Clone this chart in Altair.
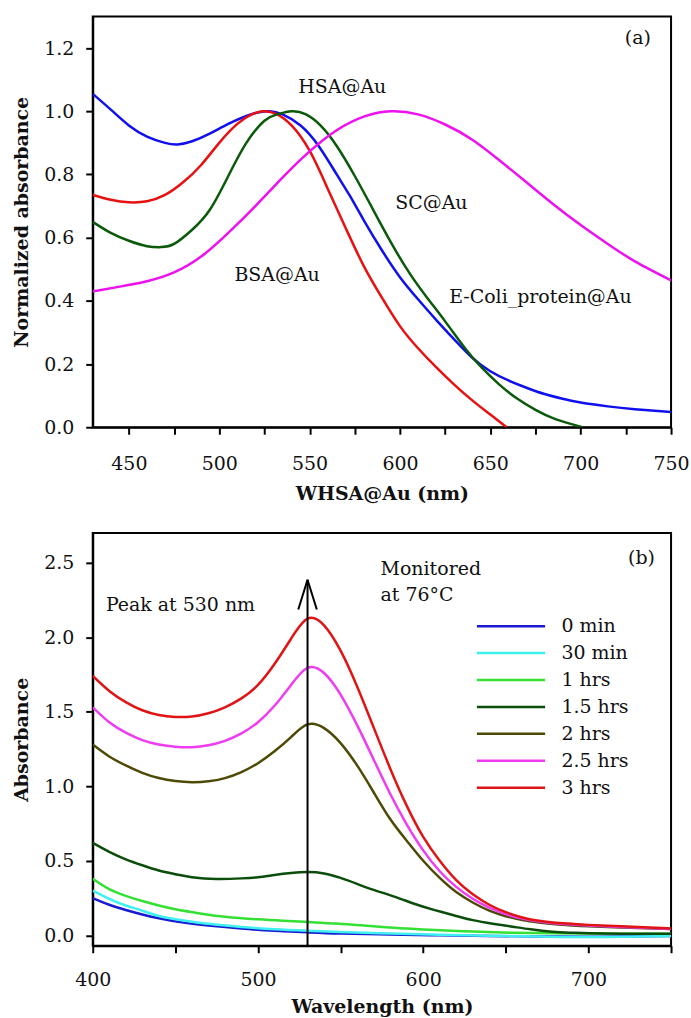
import altair as alt
import pandas as pd

FONT = "DejaVu Serif"

# ---------------- Panel (a) data ----------------
a_names = ["blue curve", "red curve", "green curve", "magenta curve"]
a_colors = ["#1010ee", "#e81010", "#0a5a0a", "#ee10ee"]

a_blue_x = [430, 440, 450, 460, 470, 477, 485, 495, 505, 515, 522, 528, 535, 545, 555, 565, 572, 580, 590, 600,
            610, 620, 630, 640, 650, 660, 670, 680, 690, 700, 715, 730, 750]
a_blue_y = [1.055, 1.005, 0.955, 0.92, 0.90, 0.895, 0.905, 0.93, 0.96, 0.985, 0.997, 1.0, 0.99, 0.955, 0.89, 0.80,
            0.735, 0.655, 0.56, 0.475, 0.405, 0.34, 0.278, 0.22, 0.177, 0.148, 0.125, 0.105, 0.09, 0.078, 0.066,
            0.057, 0.048]

a_red_x = [430, 440, 450, 460, 470, 480, 490, 500, 510, 518, 525, 532, 540, 550, 560, 570, 580, 590, 600, 610,
           620, 630, 640, 650, 659]
a_red_y = [0.735, 0.72, 0.712, 0.715, 0.735, 0.775, 0.83, 0.90, 0.96, 0.99, 1.0, 0.99, 0.955, 0.875, 0.755, 0.63,
           0.51, 0.41, 0.32, 0.25, 0.19, 0.135, 0.085, 0.04, 0.0]

a_green_x = [430, 440, 450, 460, 468, 475, 485, 495, 505, 515, 525, 532, 540, 548, 556, 565, 575, 585, 595, 605,
             615, 625, 636, 645, 655, 665, 675, 685, 695, 701]
a_green_y = [0.65, 0.615, 0.59, 0.573, 0.57, 0.58, 0.625, 0.69, 0.795, 0.90, 0.97, 0.99, 1.0, 0.99, 0.955, 0.89,
             0.795, 0.69, 0.585, 0.49, 0.41, 0.335, 0.25, 0.19, 0.135, 0.09, 0.055, 0.028, 0.01, 0.0]

a_mag_x = [430, 445, 460, 475, 490, 505, 520, 535, 550, 565, 580, 595, 610, 625, 640, 655, 670, 685, 700, 715,
           730, 750]
a_mag_y = [0.43, 0.445, 0.462, 0.49, 0.54, 0.615, 0.70, 0.79, 0.873, 0.94, 0.983, 1.0, 0.99, 0.958, 0.91, 0.845,
           0.775, 0.705, 0.64, 0.58, 0.525, 0.465]

a_labels = ["(a)", "HSA@Au", "SC@Au", "BSA@Au", "E-Coli_protein@Au"]
a_label_x = [731.6, 568.1, 617.4, 532.0, 677.7]
a_label_y = [1.231, 1.078, 0.708, 0.482, 0.413]

# ---------------- Panel (b) data ----------------
b_names = ["0 min", "30 min", "1 hrs", "1.5 hrs", "2 hrs", "2.5 hrs", "3 hrs"]
b_colors = ["#1a1ad0", "#3ff0f0", "#33e033", "#0b4d0b", "#4d4a05", "#f03cf0", "#e01414"]

b_0_x = [400, 410, 420, 430, 440, 455, 470, 490, 510, 530, 550, 580, 610, 640, 670, 700, 730, 750]
b_0_y = [0.25, 0.205, 0.17, 0.14, 0.115, 0.085, 0.065, 0.045, 0.03, 0.02, 0.012, 0.005, 0.0, -0.004, -0.008,
         -0.01, -0.007, -0.005]

b_30_x = [400, 410, 420, 430, 440, 455, 470, 490, 510, 530, 550, 580, 610, 640, 670, 700, 730, 750]
b_30_y = [0.30, 0.245, 0.20, 0.165, 0.13, 0.10, 0.077, 0.056, 0.04, 0.03, 0.022, 0.012, 0.004, -0.003, -0.008,
          -0.012, -0.008, -0.004]

b_1h_x = [400, 410, 420, 430, 440, 450, 465, 480, 500, 515, 530, 545, 560, 580, 607, 630, 654, 680, 710, 750]
b_1h_y = [0.38, 0.31, 0.265, 0.23, 0.20, 0.175, 0.147, 0.125, 0.107, 0.098, 0.09, 0.08, 0.069, 0.052, 0.035,
          0.025, 0.017, 0.013, 0.011, 0.01]

b_15h_x = [400, 410, 420, 430, 440, 450, 460, 475, 490, 500, 510, 520, 530, 540, 550, 560, 570, 583, 595, 607,
           620, 630, 642, 654, 665, 678, 690, 701, 720, 750]
b_15h_y = [0.62, 0.56, 0.51, 0.47, 0.435, 0.41, 0.39, 0.378, 0.382, 0.39, 0.405, 0.418, 0.424, 0.415, 0.385,
           0.345, 0.305, 0.258, 0.21, 0.169, 0.13, 0.102, 0.078, 0.058, 0.04, 0.024, 0.017, 0.013, 0.011, 0.01]

b_wl = [400, 410, 420, 430, 440, 450, 460, 470, 480, 490, 500, 510, 520, 530, 540, 550, 560, 570, 580, 590, 600,
        610, 620, 630, 640, 650, 660, 670, 680, 690, 700, 720, 740, 750]
b_2h_y = [1.28, 1.20, 1.14, 1.09, 1.055, 1.035, 1.027, 1.033, 1.055, 1.095, 1.155, 1.235, 1.33, 1.415, 1.39,
          1.29, 1.14, 0.96, 0.78, 0.635, 0.50, 0.385, 0.29, 0.22, 0.165, 0.128, 0.102, 0.086, 0.074, 0.066, 0.06,
          0.052, 0.045, 0.042]
b_25h_y = [1.53, 1.43, 1.36, 1.31, 1.28, 1.265, 1.262, 1.275, 1.305, 1.355, 1.43, 1.54, 1.68, 1.795, 1.76,
           1.615, 1.41, 1.18, 0.95, 0.745, 0.57, 0.43, 0.325, 0.245, 0.185, 0.142, 0.112, 0.092, 0.08, 0.072,
           0.066, 0.056, 0.047, 0.043]
b_3h_y = [1.74, 1.64, 1.565, 1.51, 1.478, 1.465, 1.468, 1.49, 1.53, 1.59, 1.68, 1.82, 1.99, 2.125, 2.08, 1.91,
          1.67, 1.395, 1.12, 0.87, 0.66, 0.50, 0.37, 0.275, 0.205, 0.155, 0.12, 0.097, 0.085, 0.077, 0.07, 0.06,
          0.05, 0.046]

b_text = ["(b)", "Peak at 530 nm", "Monitored", "at 76°C"]
b_text_x = [732.1, 408.0, 574.2, 574.2]
b_text_y = [2.529, 2.219, 2.455, 2.281]
b_text_align = ["center", "left", "left", "left"]

arrow_x = 530
arrow_base = -0.07
arrow_tip = 2.386
arrow_arm_dx = 5.6
arrow_arm_dy = 0.2


def long_table(key, names, xs_list, ys_list):
    rows = []
    for name, xs, ys in zip(names, xs_list, ys_list):
        for i, (x, y) in enumerate(zip(xs, ys)):
            rows.append({key: name, "wl": x, "val": y, "order": i})
    return pd.DataFrame(rows)


df_a = long_table("curve", a_names, [a_blue_x, a_red_x, a_green_x, a_mag_x],
                  [a_blue_y, a_red_y, a_green_y, a_mag_y])
df_b = long_table("time", b_names, [b_0_x, b_30_x, b_1h_x, b_15h_x, b_wl, b_wl, b_wl],
                  [b_0_y, b_30_y, b_1h_y, b_15h_y, b_2h_y, b_25h_y, b_3h_y])

ann_a = pd.DataFrame({"label": a_labels, "wl": a_label_x, "val": a_label_y})
ann_b = pd.DataFrame({"label": b_text, "wl": b_text_x, "val": b_text_y, "align": b_text_align})

INTERP = "natural"

# ---------------- Panel (a) chart ----------------
xa = alt.X("wl:Q", scale=alt.Scale(domain=[430, 750], nice=False, zero=False),
           axis=alt.Axis(title="WHSA@Au (nm)", values=list(range(450, 751, 25)), format="d",
                         labelExpr="datum.value % 50 == 0 ? datum.label : ''",
                         labelPadding=20, titlePadding=11))
ya = alt.Y("val:Q", scale=alt.Scale(domain=[0, 1.3], nice=False, zero=False),
           axis=alt.Axis(title="Normalized absorbance", values=[0, 0.2, 0.4, 0.6, 0.8, 1.0, 1.2], format=".1f"))

lines_a = alt.Chart(df_a).mark_line(strokeWidth=2.5, interpolate=INTERP, clip=True).encode(
    x=xa, y=ya,
    color=alt.Color("curve:N", scale=alt.Scale(domain=a_names, range=a_colors), legend=None),
    order="order:Q",
)
text_a = alt.Chart(ann_a).mark_text(font=FONT, fontSize=19, color="#111111").encode(
    x=xa, y=ya, text="label:N"
)
panel_a = alt.layer(lines_a, text_a).properties(width=580, height=412)

# ---------------- Panel (b) chart ----------------
xb = alt.X("wl:Q", scale=alt.Scale(domain=[400, 750], nice=False, zero=False),
           axis=alt.Axis(title="Wavelength (nm)", values=list(range(400, 751, 50)), format="d",
                         labelExpr="datum.value % 100 == 0 ? datum.label : ''",
                         labelPadding=18, titlePadding=8))
yb = alt.Y("val:Q", scale=alt.Scale(domain=[-0.07, 2.7], nice=False, zero=False),
           axis=alt.Axis(title="Absorbance", values=[0, 0.5, 1.0, 1.5, 2.0, 2.5], format=".1f"))

lines_b = alt.Chart(df_b).mark_line(strokeWidth=2.5, interpolate=INTERP, clip=True).encode(
    x=xb, y=yb,
    color=alt.Color("time:N", scale=alt.Scale(domain=b_names, range=b_colors),
                    legend=alt.Legend(title=None, orient="none", legendX=410, legendY=84, padding=0,
                                      symbolType="M-5,0H5", symbolSize=187, symbolStrokeWidth=2.5,
                                      labelFont=FONT, labelFontSize=19, labelColor="#111111",
                                      labelOffset=41, rowPadding=7)),
    order="order:Q",
)

shaft = pd.DataFrame({"wl": [arrow_x], "val": [arrow_base], "val2": [arrow_tip]})
arms = pd.DataFrame({"wl": [arrow_x, arrow_x], "wl2": [arrow_x - arrow_arm_dx, arrow_x + arrow_arm_dx],
                     "val": [arrow_tip, arrow_tip], "val2": [arrow_tip - arrow_arm_dy, arrow_tip - arrow_arm_dy]})

shaft_mark = alt.Chart(shaft).mark_rule(strokeWidth=2, color="black").encode(x=xb, y=yb, y2="val2:Q")
arms_mark = alt.Chart(arms).mark_rule(strokeWidth=2, color="black").encode(x=xb, x2="wl2:Q", y=yb, y2="val2:Q")

text_b = alt.Chart(ann_b).mark_text(font=FONT, fontSize=19, color="#111111").encode(
    x=xb, y=yb, text="label:N",
)
text_b_center = text_b.transform_filter("datum.align == 'center'").mark_text(
    font=FONT, fontSize=19, color="#111111", align="center")
text_b_left = text_b.transform_filter("datum.align == 'left'").mark_text(
    font=FONT, fontSize=19, color="#111111", align="left")

panel_b = alt.layer(lines_b, shaft_mark, arms_mark, text_b_center, text_b_left).properties(width=580, height=414)

chart = alt.vconcat(panel_a, panel_b, spacing=28).resolve_scale(
    color="independent", x="independent", y="independent"
).properties(
    padding={"left": 11, "top": 14, "right": 0, "bottom": 1},
    background="white",
).configure_view(
    stroke="black", strokeWidth=2
).configure_axis(
    grid=False, domainColor="black", domainWidth=2, tickColor="black", tickWidth=2, tickSize=7,
    labelFont=FONT, labelFontSize=19, labelColor="#111111", labelFlush=False,
    titleFont=FONT, titleFontSize=19, titleFontWeight="bold", titleColor="#111111",
).configure_axisY(
    labelPadding=12, titlePadding=12
)

chart.save("out.html", embed_options={"renderer": "svg", "actions": False})
